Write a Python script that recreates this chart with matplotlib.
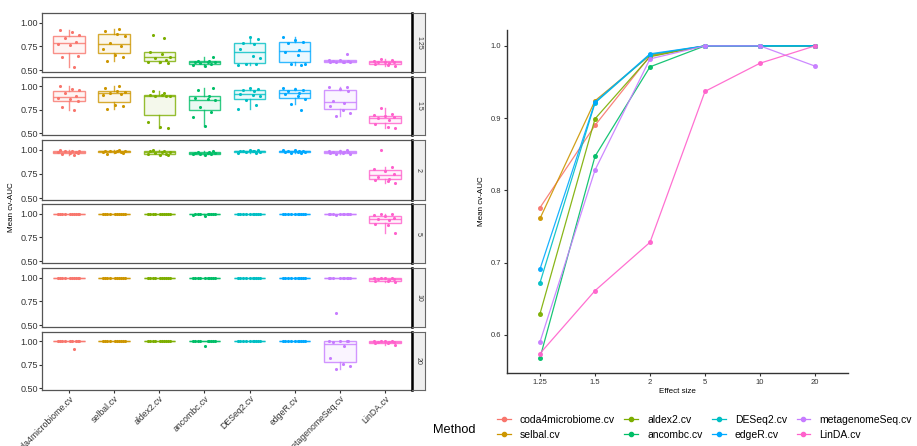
import numpy as np
import matplotlib.pyplot as plt
from matplotlib.lines import Line2D
from matplotlib.colors import to_rgba

plt.rcParams['font.family'] = ['Liberation Sans', 'DejaVu Sans']

methods = ['coda4microbiome.cv', 'selbal.cv', 'aldex2.cv', 'ancombc.cv',
           'DESeq2.cv', 'edgeR.cv', 'metagenomeSeq.cv', 'LinDA.cv']
effect_sizes = ['1.25', '1.5', '2', '5', '10', '20']
colors = ['#F8766D', '#CD9600', '#7CAE00', '#00BE67',
          '#00BFC4', '#00A9FF', '#C77CFF', '#FF61CC']

# cv-AUC per run, one list per method, one block per effect size
auc_125 = [[0.92, 0.90, 0.87, 0.84, 0.80, 0.77, 0.76, 0.65, 0.64, 0.53],
           [0.93, 0.91, 0.88, 0.86, 0.79, 0.75, 0.72, 0.66, 0.64, 0.60],
           [0.87, 0.84, 0.69, 0.67, 0.64, 0.63, 0.61, 0.59, 0.58, 0.57],
           [0.64, 0.60, 0.60, 0.59, 0.58, 0.58, 0.57, 0.56, 0.55, 0.54],
           [0.85, 0.83, 0.79, 0.77, 0.72, 0.65, 0.63, 0.56, 0.56, 0.55],
           [0.85, 0.82, 0.80, 0.78, 0.71, 0.69, 0.66, 0.56, 0.56, 0.55],
           [0.67, 0.61, 0.61, 0.60, 0.60, 0.59, 0.59, 0.59, 0.58, 0.58],
           [0.62, 0.61, 0.60, 0.59, 0.58, 0.58, 0.57, 0.56, 0.55, 0.54]]
auc_15 = [[1.00, 0.97, 0.96, 0.93, 0.90, 0.88, 0.86, 0.84, 0.78, 0.75],
          [1.00, 0.98, 0.95, 0.94, 0.93, 0.92, 0.91, 0.80, 0.79, 0.76],
          [0.95, 0.93, 0.91, 0.91, 0.90, 0.90, 0.90, 0.62, 0.57, 0.56],
          [0.98, 0.96, 0.90, 0.88, 0.86, 0.85, 0.78, 0.73, 0.67, 0.58],
          [0.98, 0.97, 0.96, 0.95, 0.92, 0.91, 0.90, 0.85, 0.80, 0.76],
          [0.98, 0.97, 0.96, 0.95, 0.93, 0.92, 0.90, 0.87, 0.81, 0.75],
          [0.99, 0.99, 0.97, 0.95, 0.84, 0.82, 0.79, 0.75, 0.71, 0.68],
          [0.77, 0.70, 0.69, 0.68, 0.67, 0.66, 0.64, 0.60, 0.57, 0.56]]
auc_2 = [[1.00, 0.99, 0.99, 0.99, 0.98, 0.98, 0.97, 0.97, 0.96, 0.95],
         [1.00, 0.99, 0.99, 0.99, 0.99, 0.98, 0.98, 0.98, 0.97, 0.96],
         [1.00, 0.99, 0.99, 0.98, 0.98, 0.97, 0.96, 0.96, 0.95, 0.95],
         [0.99, 0.98, 0.98, 0.97, 0.97, 0.97, 0.96, 0.96, 0.96, 0.95],
         [1.00, 1.00, 0.99, 0.99, 0.99, 0.99, 0.98, 0.98, 0.97, 0.97],
         [1.00, 1.00, 0.99, 0.99, 0.99, 0.98, 0.98, 0.98, 0.97, 0.97],
         [1.00, 0.99, 0.99, 0.98, 0.98, 0.98, 0.97, 0.97, 0.96, 0.96],
         [1.00, 0.82, 0.80, 0.78, 0.75, 0.72, 0.70, 0.69, 0.68, 0.66]]
auc_5 = [[1.00, 1.00, 1.00, 1.00, 1.00, 1.00, 1.00, 1.00, 1.00, 1.00],
         [1.00, 1.00, 1.00, 1.00, 1.00, 1.00, 1.00, 1.00, 0.99, 0.99],
         [1.00, 1.00, 1.00, 1.00, 1.00, 1.00, 1.00, 1.00, 1.00, 0.99],
         [1.00, 1.00, 1.00, 1.00, 1.00, 1.00, 0.99, 0.99, 0.98, 0.97],
         [1.00, 1.00, 1.00, 1.00, 1.00, 1.00, 1.00, 1.00, 1.00, 0.99],
         [1.00, 1.00, 1.00, 1.00, 1.00, 1.00, 1.00, 1.00, 1.00, 0.99],
         [1.00, 1.00, 1.00, 1.00, 1.00, 1.00, 1.00, 1.00, 0.99, 0.98],
         [1.00, 0.99, 0.98, 0.97, 0.95, 0.94, 0.93, 0.89, 0.88, 0.80]]
auc_10 = [[1.00, 1.00, 1.00, 1.00, 1.00, 1.00, 1.00, 1.00, 1.00, 1.00],
          [1.00, 1.00, 1.00, 1.00, 1.00, 1.00, 1.00, 1.00, 1.00, 1.00],
          [1.00, 1.00, 1.00, 1.00, 1.00, 1.00, 1.00, 1.00, 1.00, 1.00],
          [1.00, 1.00, 1.00, 1.00, 1.00, 1.00, 1.00, 1.00, 1.00, 1.00],
          [1.00, 1.00, 1.00, 1.00, 1.00, 1.00, 1.00, 1.00, 1.00, 1.00],
          [1.00, 1.00, 1.00, 1.00, 1.00, 1.00, 1.00, 1.00, 1.00, 1.00],
          [1.00, 1.00, 1.00, 1.00, 1.00, 1.00, 1.00, 1.00, 1.00, 0.63],
          [1.00, 1.00, 0.99, 0.99, 0.98, 0.98, 0.97, 0.96, 0.96, 0.95]]
auc_20 = [[1.00, 1.00, 1.00, 1.00, 1.00, 1.00, 1.00, 1.00, 1.00, 0.92],
          [1.00, 1.00, 1.00, 1.00, 1.00, 1.00, 1.00, 1.00, 1.00, 1.00],
          [1.00, 1.00, 1.00, 1.00, 1.00, 1.00, 1.00, 1.00, 1.00, 1.00],
          [1.00, 1.00, 1.00, 1.00, 1.00, 1.00, 1.00, 1.00, 1.00, 0.955],
          [1.00, 1.00, 1.00, 1.00, 1.00, 1.00, 1.00, 1.00, 1.00, 1.00],
          [1.00, 1.00, 1.00, 1.00, 1.00, 1.00, 1.00, 1.00, 1.00, 1.00],
          [1.00, 1.00, 1.00, 1.00, 0.99, 0.95, 0.82, 0.76, 0.74, 0.70],
          [1.00, 1.00, 1.00, 1.00, 0.99, 0.99, 0.99, 0.98, 0.98, 0.96]]
panels = [auc_125, auc_15, auc_2, auc_5, auc_10, auc_20]

# mean cv-AUC by effect size (right plot)
mean_coda4 = [0.776, 0.890, 0.986, 1.0, 1.0, 1.0]
mean_selbal = [0.761, 0.924, 0.987, 1.0, 1.0, 1.0]
mean_aldex2 = [0.629, 0.899, 0.985, 1.0, 1.0, 1.0]
mean_ancombc = [0.568, 0.847, 0.971, 1.0, 1.0, 1.0]
mean_deseq2 = [0.672, 0.921, 0.988, 1.0, 1.0, 1.0]
mean_edger = [0.691, 0.922, 0.989, 1.0, 1.0, 1.0]
mean_metagenomeseq = [0.590, 0.828, 0.982, 1.0, 1.0, 0.972]
mean_linda = [0.574, 0.661, 0.728, 0.937, 0.976, 1.0]
means = [mean_coda4, mean_selbal, mean_aldex2, mean_ancombc,
         mean_deseq2, mean_edger, mean_metagenomeseq, mean_linda]

W, H = 917, 446
fig = plt.figure(figsize=(W / 100, H / 100), dpi=100)


def px_axes(x0, y0, x1, y1):
    return fig.add_axes([x0 / W, 1 - y1 / H, (x1 - x0) / W, (y1 - y0) / H])


rows = [(13, 72), (77, 135), (140, 200), (204, 263), (268, 327), (332, 390)]
jit = np.array([-0.21, 0.07, 0.23, -0.09, 0.15, -0.25, 0.01, 0.19, -0.15, 0.10])

for i, (y0, y1) in enumerate(rows):
    ax = px_axes(42, y0, 412, y1)
    for j, vals in enumerate(panels[i]):
        c = colors[j]
        bp = ax.boxplot(vals, positions=[j], widths=0.7, showfliers=False,
                        showcaps=False, patch_artist=True, whis=1.5,
                        manage_ticks=False)
        for b in bp['boxes']:
            b.set_facecolor(to_rgba(c, 0.08))
            b.set_edgecolor(to_rgba(c, 0.8))
            b.set_linewidth(1.0)
        for k in bp['whiskers'] + bp['medians']:
            k.set_color(to_rgba(c, 0.8))
            k.set_linewidth(1.0)
        ax.scatter(j + np.roll(jit, j), vals, s=5, color=c, linewidths=0, zorder=3)
    ax.set_xlim(-0.6, 7.6)
    ax.set_ylim(0.48, 1.10)
    ax.set_yticks([0.5, 0.75, 1.0])
    ax.set_yticklabels(['0.50', '0.75', '1.00'])
    ax.tick_params(labelsize=6.5, length=2, color='#333333', labelcolor='#333333', pad=1)
    for s in ax.spines.values():
        s.set_color('#555555')
        s.set_linewidth(0.9)
    ax.set_xticks(range(len(methods)))
    if i == len(rows) - 1:
        ax.set_xticklabels(methods, rotation=45, ha='right', rotation_mode='anchor',
                           fontsize=6.3)
    else:
        ax.set_xticklabels([])
        ax.tick_params(axis='x', length=0)

    strip = px_axes(412, y0, 425, y1)
    strip.set_facecolor('#EFEFEF')
    strip.set_xticks([])
    strip.set_yticks([])
    for s in strip.spines.values():
        s.set_color('#666666')
        s.set_linewidth(0.8)
    strip.spines['left'].set_color('black')
    strip.spines['left'].set_linewidth(1.8)
    strip.text(0.5, 0.5, effect_sizes[i], rotation=-90, ha='center', va='center',
               fontsize=5, color='#333333', transform=strip.transAxes)

fig.text(12 / W, 1 - 207 / H, 'Mean cv-AUC', rotation=90, ha='center', va='center',
         fontsize=5.8)

# right: mean cv-AUC vs effect size
ax2 = px_axes(507, 30, 848, 373)
x = np.arange(len(effect_sizes))
for m, c in zip(means, colors):
    ax2.plot(x, m, color=c, lw=0.9, marker='o', ms=2.6, alpha=0.9)
ax2.set_xlim(-0.6, 5.6)
ax2.set_ylim(0.547, 1.022)
ax2.set_xticks(x)
ax2.set_xticklabels(effect_sizes)
ax2.set_yticks([0.6, 0.7, 0.8, 0.9, 1.0])
ax2.set_yticklabels(['0.6', '0.7', '0.8', '0.9', '1.0'])
ax2.spines['top'].set_visible(False)
ax2.spines['right'].set_visible(False)
for s in ['left', 'bottom']:
    ax2.spines[s].set_color('#333333')
    ax2.spines[s].set_linewidth(1.0)
ax2.tick_params(labelsize=5.5, length=2, color='#333333', labelcolor='#333333', pad=2)
ax2.set_xlabel('Effect size', fontsize=5.8, labelpad=2)
ax2.set_ylabel('Mean cv-AUC', fontsize=5.8, labelpad=4)

handles = [Line2D([0], [0], color=c, lw=0.9, marker='o', ms=3) for c in colors]
fig.text(433 / W, 1 - 430 / H, 'Method', fontsize=9.2, va='center', ha='left')
fig.legend(handles, methods, ncol=4, loc='upper left',
           bbox_to_anchor=(497 / W, 1 - 415 / H), frameon=False, fontsize=7.5,
           handlelength=1.3, handletextpad=0.9, columnspacing=0.9,
           labelspacing=0.45, borderpad=0, borderaxespad=0)

fig.savefig('out.png', dpi=100)
